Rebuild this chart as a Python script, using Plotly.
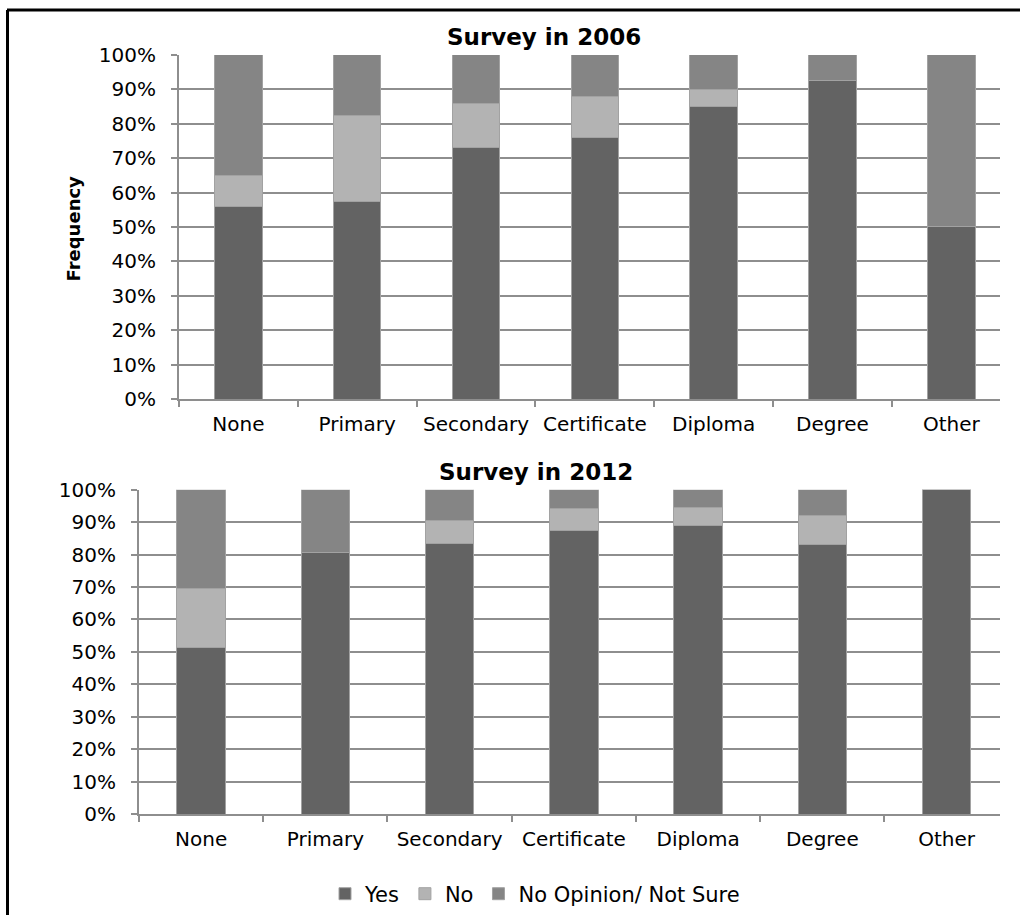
import plotly.graph_objects as go

categories = ["None", "Primary", "Secondary", "Certificate", "Diploma", "Degree", "Other"]

# 2006 survey (fractions)
yes_2006 = [0.56, 0.575, 0.73, 0.76, 0.85, 0.925, 0.50]
no_2006 = [0.09, 0.25, 0.13, 0.12, 0.05, 0.00, 0.00]
noop_2006 = [0.35, 0.175, 0.14, 0.12, 0.10, 0.075, 0.50]

# 2012 survey (fractions)
yes_2012 = [0.515, 0.805, 0.835, 0.873, 0.89, 0.83, 1.00]
no_2012 = [0.18, 0.00, 0.07, 0.068, 0.055, 0.09, 0.00]
noop_2012 = [0.305, 0.195, 0.095, 0.059, 0.055, 0.08, 0.00]

series_names = ["Yes", "No", "No Opinion/ Not Sure"]
colors = ["#636363", "#b3b3b3", "#858585"]

W, H = 1020, 915
FONT = "DejaVu Sans"
GRID = "#8e8e8e"

fig = go.Figure()

for vals, name, col in zip([yes_2006, no_2006, noop_2006], series_names, colors):
    fig.add_trace(go.Bar(x=categories, y=vals, name=name, marker=dict(color=col, line=dict(color="#a2a2a2", width=1)),
                         width=0.4, xaxis="x", yaxis="y", showlegend=True, hoverinfo="skip"))
for vals, name, col in zip([yes_2012, no_2012, noop_2012], series_names, colors):
    fig.add_trace(go.Bar(x=categories, y=vals, name=name, marker=dict(color=col, line=dict(color="#a2a2a2", width=1)),
                         width=0.39, xaxis="x2", yaxis="y2", showlegend=False, hoverinfo="skip"))

def px_x(p):
    return p / W

def px_y(p):
    return 1 - p / H

axis_common = dict(showline=True, linecolor=GRID, linewidth=2, ticks="outside", tickcolor=GRID,
                   tickwidth=2, ticklen=6, tickfont=dict(family=FONT, size=20, color="#000000"), automargin=False)

fig.update_layout(
    width=W, height=H,
    margin=dict(l=0, r=0, t=0, b=0),
    paper_bgcolor="white", plot_bgcolor="white",
    barmode="stack", bargap=0.6,
    font=dict(family=FONT, color="#000000"),
    xaxis=dict(domain=[px_x(179), px_x(1000)], anchor="y", range=[-0.5, 6.41], type="category",
               tickson="boundaries", ticklabelstandoff=6, showgrid=False, **axis_common),
    yaxis=dict(domain=[px_y(400), px_y(55)], anchor="x", range=[0, 1], dtick=0.1, tickformat=".0%",
               showgrid=True, gridcolor=GRID, gridwidth=2, zeroline=False, ticklabelstandoff=11, **axis_common),
    xaxis2=dict(domain=[px_x(139), px_x(1000)], anchor="y2", range=[-0.5, 6.43], type="category",
                tickson="boundaries", ticklabelstandoff=6, showgrid=False, **axis_common),
    yaxis2=dict(domain=[px_y(816), px_y(490.7)], anchor="x2", range=[0, 1], dtick=0.1, tickformat=".0%",
                showgrid=True, gridcolor=GRID, gridwidth=2, zeroline=False, ticklabelstandoff=11, **axis_common),
    legend=dict(orientation="h", x=px_x(535), xanchor="center", y=px_y(896), yanchor="middle",
                font=dict(family=FONT, size=21, color="#000000"), traceorder="normal"),
    annotations=[
        dict(text="<b>Survey in 2006</b>", x=px_x(544), y=px_y(37), xref="paper", yref="paper",
             xanchor="center", yanchor="middle", showarrow=False, font=dict(family=FONT, size=23, color="#000000")),
        dict(text="<b>Survey in 2012</b>", x=px_x(536), y=px_y(473), xref="paper", yref="paper",
             xanchor="center", yanchor="middle", showarrow=False, font=dict(family=FONT, size=23, color="#000000")),
        dict(text="<b>Frequency</b>", x=px_x(73), y=px_y(229), xref="paper", yref="paper", textangle=-90,
             xanchor="center", yanchor="middle", showarrow=False, font=dict(family=FONT, size=18, color="#000000")),
    ],
    shapes=[
        dict(type="line", xref="paper", yref="paper", x0=px_x(7), x1=1.01, y0=px_y(10), y1=px_y(10),
             line=dict(color="#000000", width=3)),
        dict(type="line", xref="paper", yref="paper", x0=px_x(7.5), x1=px_x(7.5), y0=px_y(10), y1=-0.01,
             line=dict(color="#000000", width=3)),
    ],
)

fig.write_html("out.html", config={"displayModeBar": False},
               post_script="document.body.style.margin='0';document.body.style.overflow='hidden';")
